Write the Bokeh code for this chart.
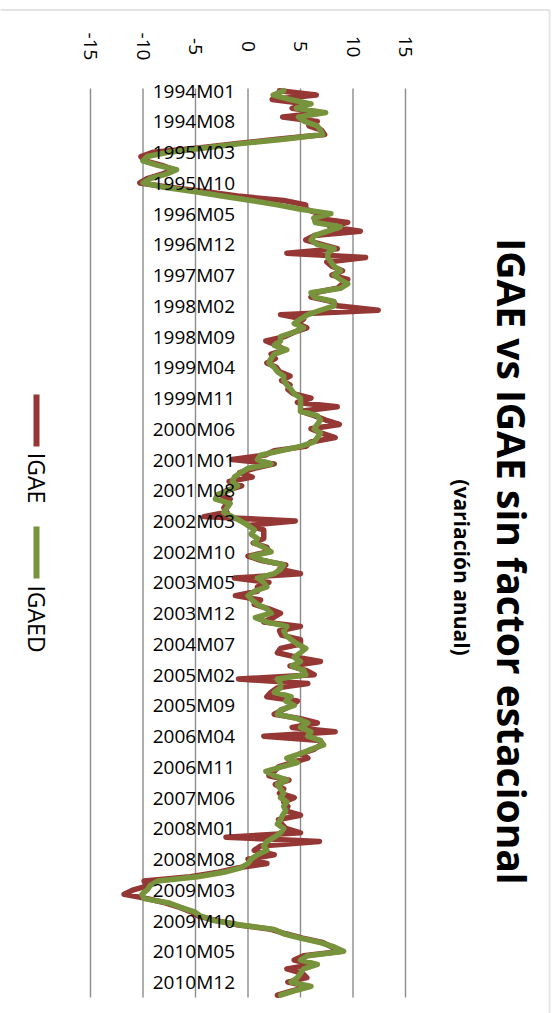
import math
from bokeh.plotting import figure
from bokeh.models import Range1d, BoxAnnotation
from bokeh.core.properties import value
from bokeh.embed import file_html
from bokeh.resources import INLINE

# Monthly periods, 1994M01 .. 2011M03
periods = [f"{y}M{m:02d}" for y in range(1994, 2012) for m in range(1, 13)][:207]

# IGAE, annual variation (%), original series
igae = [
    3.0, 6.5, 2.3, 5.5, 4.2, 7.0, 3.3, 6.6, 5.8, 7.0, 7.3, 3.0,            # 1994
    -1.0, -4.5, -9.0, -10.2, -9.8, -8.2, -7.0, -8.2, -9.6, -10.3, -7.5, -4.0,  # 1995
    -1.0, 3.4, 5.5, 5.5, 6.8, 6.3, 9.5, 7.8, 10.7, 6.3, 5.5, 7.0,          # 1996
    8.5, 3.7, 11.2, 7.5, 8.0, 9.0, 8.0, 9.5, 9.0, 8.5, 6.3, 6.0,           # 1997
    8.0, 8.5, 12.4, 3.1, 5.3, 4.7, 5.6, 4.4, 3.5, 1.7, 2.8, 3.5,           # 1998
    2.2, 2.6, 1.8, 2.7, 3.0, 4.0, 3.2, 4.0, 3.8, 4.3, 6.0, 4.7,            # 1999
    8.5, 5.0, 6.3, 7.4, 8.7, 6.0, 7.0, 8.3, 6.0, 5.5, 2.5, 1.6,            # 2000
    -1.5, 2.5, 0.6, -0.8, 0.4, -1.8, -0.6, -2.0, -2.6, -1.7, -2.0, -2.3,   # 2001
    -2.0, -4.2, 4.5, 0.0, 1.5, 1.5, 1.5, 0.5, 1.8, 2.0, 0.0, 1.3,          # 2002
    3.6, 3.0, 5.0, -1.3, 2.0, 0.9, 0.9, -1.2, 1.2, 0.6, 2.0, 3.1,          # 2003
    2.4, 1.5, 5.0, 3.0, 3.2, 5.0, 5.0, 3.1, 2.8, 4.6, 6.9, 4.0,            # 2004
    5.5, 6.3, -0.9, 5.7, 2.8, 2.2, 1.8, 4.7, 4.2, 3.3, 2.5, 5.0,           # 2005
    6.6, 4.2, 8.3, 1.5, 6.9, 6.9, 6.3, 5.0, 5.7, 4.2, 2.9, 2.5,            # 2006
    2.0, 3.9, 2.6, 3.4, 3.0, 4.4, 3.4, 3.8, 3.6, 5.0, 2.9, 3.2,            # 2007
    3.6, 5.0, -2.1, 6.8, 1.2, 0.6, 2.5, 0.0, 1.8, -1.0, -2.8, -5.5,        # 2008
    -9.9, -9.4, -10.9, -11.8, -9.6, -7.8, -6.5, -5.4, -4.7, -3.0, -0.9, 2.2,  # 2009
    3.6, 5.2, 7.1, 8.0, 9.0, 5.3, 4.4, 6.2, 3.7, 5.2, 5.6, 3.8,            # 2010
    5.8, 4.2, 2.8,                                                          # 2011
]

# IGAED, annual variation (%), seasonally adjusted series
igaed = [
    3.4, 2.4, 4.0, 6.0, 4.6, 7.4, 4.8, 5.4, 6.6, 6.9, 7.1, 3.6,            # 1994
    -0.5, -4.0, -7.5, -9.6, -10.0, -8.6, -6.8, -7.8, -9.3, -10.0, -8.0, -5.0,  # 1995
    -2.5, 0.3, 2.8, 5.0, 7.9, 6.3, 6.4, 8.8, 7.6, 6.3, 6.0, 6.6,           # 1996
    8.2, 7.6, 7.6, 7.9, 8.2, 8.8, 8.2, 8.8, 9.5, 8.8, 6.0, 6.3,            # 1997
    8.2, 8.2, 6.9, 5.7, 5.0, 4.4, 5.3, 4.4, 3.1, 3.1, 2.5, 3.7,            # 1998
    2.5, 2.2, 2.0, 2.5, 2.8, 3.4, 3.4, 3.7, 4.1, 4.4, 5.0, 5.0,            # 1999
    5.0, 5.0, 6.6, 6.9, 6.6, 6.3, 6.9, 6.6, 6.3, 5.0, 3.1, 1.2,            # 2000
    0.9, 2.2, 0.0, -0.7, -1.3, -1.5, -1.0, -1.8, -2.9, -3.1, -1.7, -2.0,   # 2001
    -2.3, -1.5, -0.7, 0.0, 0.6, 0.3, 0.9, 0.6, 1.5, 2.2, 0.3, 1.5,         # 2002
    3.4, 3.1, 2.5, 0.9, 1.5, 1.8, 0.6, 0.0, 0.4, 0.9, 1.8, 2.2,            # 2003
    0.7, 1.8, 3.7, 3.4, 3.6, 4.1, 4.7, 5.5, 5.0, 4.4, 5.0, 4.2,            # 2004
    5.3, 5.5, 2.8, 3.1, 3.1, 2.5, 4.1, 3.6, 4.4, 3.1, 2.8, 4.7,            # 2005
    5.7, 5.0, 6.0, 5.7, 6.9, 7.2, 6.0, 5.0, 3.7, 4.7, 3.2, 1.7,            # 2006
    2.5, 3.7, 2.8, 3.1, 3.4, 3.1, 3.7, 3.4, 3.6, 3.3, 3.1, 2.8,            # 2007
    3.4, 3.1, 2.5, 1.8, 1.5, 1.8, 0.9, 0.3, 0.0, -0.7, -2.3, -4.8,         # 2008
    -8.6, -9.3, -9.6, -10.1, -9.9, -7.5, -6.4, -5.1, -4.5, -3.2, -0.7, 2.5,  # 2009
    3.4, 5.0, 6.9, 8.2, 9.1, 5.7, 5.0, 6.6, 5.3, 5.0, 4.7, 4.1,            # 2010
    6.0, 4.4, 3.1,                                                          # 2011
]

value_ticks = [-15, -10, -5, 0, 5, 10, 15]
value_tick_labels = ["-15", "-10", "-5", "0", "5", "10", "15"]
category_ticks = list(range(0, len(periods), 7))
category_tick_labels = [periods[i] for i in category_ticks]

title_text = "IGAE vs IGAE sin factor estacional"
subtitle_text = "(variación anual)"
series_names = ["IGAE", "IGAED"]
series_colors = ["#953735", "#77933C"]

# Page geometry: the chart is laid out rotated a quarter turn, so the value
# scale runs left-to-right and the months run top-to-bottom.
W, H = 558, 1013
X_ZERO, PX_PER_UNIT = 247.5, 10.5        # value 0 and pixels per percentage point
Y_TOP, PX_PER_MONTH = 88.0, 4.391        # plot-area top edge and pixels per month

def vx(px):
    return (px - X_ZERO) / PX_PER_UNIT

def my(py):
    return -0.5 + (py - Y_TOP) / PX_PER_MONTH

idx = list(range(len(periods)))

p = figure(width=W, height=H,
           x_range=Range1d(vx(0), vx(W)),
           y_range=Range1d(my(H), my(0)),
           x_axis_location=None, y_axis_location=None,
           output_backend="svg", toolbar_location=None, min_border=0)
p.grid.visible = False
p.outline_line_color = None
p.background_fill_color = "white"
p.border_fill_color = "white"

# chart frame (top and right edges visible)
p.add_layout(BoxAnnotation(left=vx(-50), right=vx(549), top=my(9.5), bottom=my(H + 50),
                           fill_alpha=0, line_color="#a6a6a6", line_width=2))

# major gridlines across the plot area
n_cat = len(periods)
p.segment(x0=value_ticks, x1=value_ticks,
          y0=[-0.5] * len(value_ticks), y1=[n_cat - 0.5] * len(value_ticks),
          line_color="#8c8c8c", line_width=1.4)

# series
p.line(x=igae, y=idx, line_color=series_colors[0], line_width=5.5,
       line_join="round", line_cap="round")
p.line(x=igaed, y=idx, line_color=series_colors[1], line_width=5.5,
       line_join="round", line_cap="round")

# category labels next to the value-zero axis
p.text(x=[0] * len(category_ticks), y=category_ticks, text=category_tick_labels,
       x_offset=-13, text_align="right", text_baseline="middle",
       text_font=value("Open Sans"), text_font_size="19px", text_color="#000000")

# value-axis labels
p.text(x=value_ticks, y=[my(46)] * len(value_ticks), text=value_tick_labels,
       angle=-math.pi / 2, text_align="center", text_baseline="middle",
       text_font=value("Open Sans"), text_font_size="19px", text_color="#000000")

# title and subtitle
p.text(x=[vx(512)], y=[my(561)], text=[title_text], angle=-math.pi / 2,
       text_align="center", text_baseline="middle",
       text_font=value("Open Sans"), text_font_style="bold",
       text_font_size="39px", text_color="#000000")
p.text(x=[vx(461)], y=[my(567)], text=[subtitle_text], angle=-math.pi / 2,
       text_align="center", text_baseline="middle",
       text_font=value("Open Sans"), text_font_style="bold",
       text_font_size="21px", text_color="#000000")

# legend
p.segment(x0=[vx(36)] * 2, x1=[vx(36)] * 2, y0=[my(394), my(526)], y1=[my(446), my(578)],
          line_color=series_colors, line_width=6, line_cap="butt")
p.text(x=[vx(36)] * 2, y=[my(477.5), my(618.5)], text=series_names, angle=-math.pi / 2,
       text_align="center", text_baseline="middle",
       text_font=value("Open Sans"), text_font_size="23px", text_color="#000000")

open("out.html", "w").write(file_html(p, INLINE))
